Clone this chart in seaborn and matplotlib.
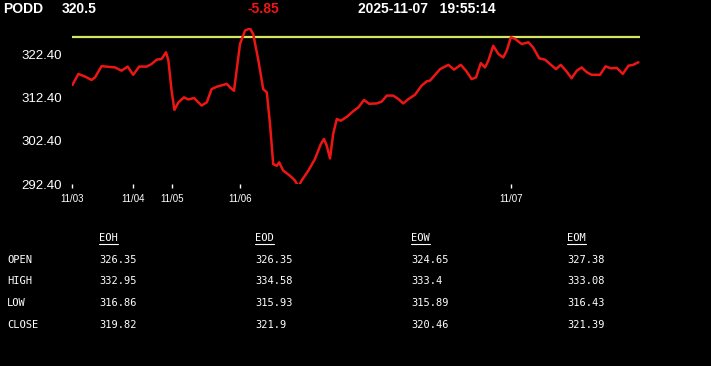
import matplotlib
matplotlib.use("Agg")
import matplotlib.pyplot as plt
import seaborn as sns
import pandas as pd
from matplotlib.lines import Line2D

# ---------------- data ----------------
symbol = "PODD"
last_price = "320.5"
change = "-5.85"
timestamp = "2025-11-07   19:55:14"
prev_close = 326.35

t = [0.1, 1.6, 3.25, 4.9, 5.75, 7.4, 10.75, 12.4, 13.9, 15.3, 16.8, 18.7, 19.9, 21.2,
     22.4, 23.5, 24.1, 24.9, 25.6, 26.6, 28.0, 29.1, 30.5, 32.4, 33.7, 34.9, 36.2, 38.7,
     39.5, 40.5, 42.0, 43.25, 44.5, 45.3, 46.6, 47.8, 48.7, 49.5, 50.3, 51.2, 51.8, 52.8,
     54.5, 55.75, 56.6, 57.4, 59.1, 60.75, 62.2, 63.0, 63.7, 64.5, 65.3, 66.2, 67.2, 68.7,
     70.3, 71.6, 73.0, 74.3, 76.2, 77.4, 78.7, 80.3, 81.6, 82.8, 84.1, 85.75, 87.4, 88.7,
     89.5, 92.0, 94.1, 95.5, 97.2, 98.5, 99.9, 101.0, 102.2, 103.25, 104.1, 105.3, 106.6,
     107.8, 108.7, 109.7, 110.75, 112.4, 114.1, 115.3, 116.8, 118.25, 119.5, 121.0, 122.2,
     123.7, 124.9, 126.2, 127.4, 128.7, 129.9, 132.0, 133.4, 134.7, 136.2, 137.7, 139.1,
     140.3, 141.6]
price = [315.25, 317.8, 317.2, 316.4, 317.0, 319.6, 319.3, 318.55, 319.5, 317.6, 319.5, 319.5,
         320.1, 321.1, 321.25, 322.8, 320.9, 313.9, 309.5, 311.25, 312.4, 311.9, 312.25, 310.5,
         311.25, 314.3, 314.85, 315.5, 314.7, 313.9, 324.7, 327.8, 328.3, 327.0, 320.9, 314.3,
         313.55, 306.25, 297.0, 296.6, 297.4, 295.5, 294.3, 293.2, 291.8, 293.2, 295.5, 298.2,
         301.6, 302.8, 301.2, 298.3, 304.0, 307.4, 307.0, 307.9, 309.2, 310.1, 311.8, 310.9,
         311.0, 311.4, 312.8, 312.8, 312.0, 311.0, 312.0, 313.0, 315.1, 316.1, 316.25, 318.9,
         319.9, 318.8, 319.9, 318.55, 316.6, 317.0, 320.3, 319.3, 320.9, 324.3, 322.4, 321.6,
         323.2, 326.25, 325.9, 324.7, 325.1, 323.9, 321.4, 321.1, 320.1, 318.9, 319.9, 318.3,
         316.8, 318.55, 319.3, 318.2, 317.6, 317.6, 319.55, 319.1, 319.2, 317.8, 319.7, 319.9,
         320.5]

x_tick_pos = [0, 15.25, 25, 42, 109.7]
x_tick_labels = ["11/03", "11/04", "11/05", "11/06", "11/07"]
y_ticks = [292.4, 302.4, 312.4, 322.4]

table_cols = ["EOH", "EOD", "EOW", "EOM"]
table_rows = ["OPEN", "HIGH", "LOW", "CLOSE"]
table_vals = [
    ["326.35", "326.35", "324.65", "327.38"],
    ["332.95", "334.58", "333.4", "333.08"],
    ["316.86", "315.93", "315.89", "316.43"],
    ["319.82", "321.9", "320.46", "321.39"],
]

# ---------------- figure ----------------
sns.set_style("dark")
plt.rcParams["font.family"] = ["Liberation Sans", "DejaVu Sans"]

W, H = 711, 366
fig = plt.figure(figsize=(W / 100, H / 100), dpi=100, facecolor="black")
ax = fig.add_axes([72 / W, (H - 184) / H, 568 / W, 156 / H])
ax.set_facecolor("black")

df = pd.DataFrame({"t": t, "price": price})
ax.axhline(prev_close, color="#d6e663", lw=1.6, zorder=2)
sns.lineplot(data=df, x="t", y="price", ax=ax, color="#ee1515", lw=1.8,
             zorder=3, solid_joinstyle="round", solid_capstyle="round")

ax.set_xlim(0, 142)
ax.set_ylim(292.4, 328.4)
ax.grid(False)
for s in ax.spines.values():
    s.set_visible(False)
ax.set_xlabel("")
ax.set_ylabel("")

ax.set_xticks(x_tick_pos)
ax.set_xticklabels(x_tick_labels)
ax.set_yticks(y_ticks)
ax.set_yticklabels([f"{v:.2f}" for v in y_ticks])
ax.tick_params(axis="x", colors="white", labelcolor="white", length=3, width=1,
               direction="out", pad=4, labelsize=7, bottom=True)
ax.tick_params(axis="y", colors="white", labelcolor="white", length=0, pad=7.5,
               labelsize=9.5, left=True)

# ---------------- header ----------------
hy = 1 - 9 / H
hdr = dict(fontsize=10, fontweight="bold", va="center", ha="left")
fig.text(3 / W, hy, symbol, color="white", **hdr)
fig.text(62 / W, hy, last_price, color="white", **hdr)
fig.text(247 / W, hy, change, color="#ee1515", **hdr)
fig.text(358 / W, hy, timestamp, color="white", **hdr)

# ---------------- table ----------------
mono = dict(family="DejaVu Sans Mono", fontsize=7.5, color="white", va="center", ha="left")
col_x = [99, 255, 411, 567]
head_y = 238
row_y = [260, 281, 302.5, 324.5]

fig.canvas.draw()
renderer = fig.canvas.get_renderer()
for cx, name in zip(col_x, table_cols):
    txt = fig.text(cx / W, 1 - head_y / H, name, **mono)
    bb = txt.get_window_extent(renderer)
    uy = 1 - 244 / H
    fig.add_artist(Line2D([bb.x0 / W, bb.x1 / W], [uy, uy], color="white", lw=0.8,
                          transform=fig.transFigure))
for ry, rname, vals in zip(row_y, table_rows, table_vals):
    fig.text(7 / W, 1 - ry / H, rname, **mono)
    for cx, v in zip(col_x, vals):
        fig.text(cx / W, 1 - ry / H, v, **mono)

fig.savefig("out.png", dpi=100, facecolor="black")
